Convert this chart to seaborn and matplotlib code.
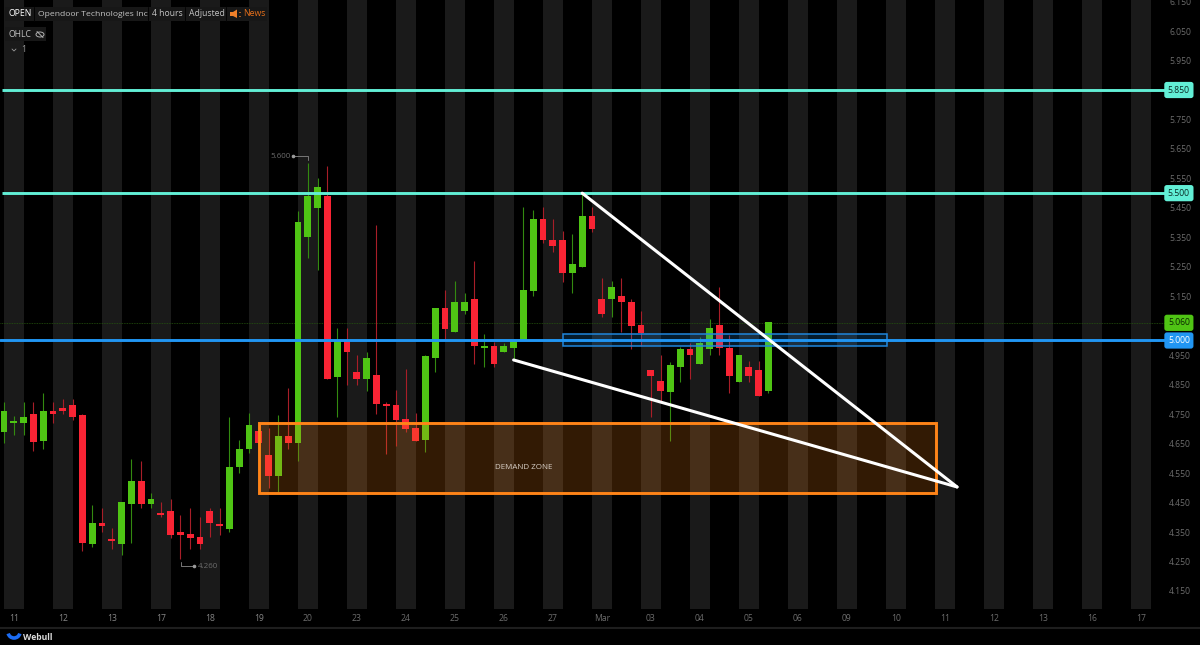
import numpy as np
import pandas as pd
import matplotlib
matplotlib.use("Agg")
import matplotlib.pyplot as plt
from matplotlib.patches import Rectangle, Polygon, Ellipse, Arc
import seaborn as sns

# ---- data ----
opens = [4.691,4.720,4.720,4.752,4.660,4.762,4.772,4.782,4.748,4.311,4.382,4.323,4.311,4.446,4.522,4.446,4.413,4.421,4.351,4.342,4.332,4.421,4.373,4.361,4.571,4.631,4.692,4.611,4.541,4.676,
         4.651,5.350,5.450,5.490,4.875,5.002,4.892,4.869,4.882,4.783,4.781,4.733,4.703,4.662,4.940,5.111,5.030,5.100,5.141,4.976,4.981,4.960,4.975,5.002,5.169,5.411,5.341,5.341,5.230,5.250,5.421,
         5.141,5.140,5.151,5.131,5.051,4.900,4.861,4.824,4.910,4.971,4.920,4.970,5.051,4.976,4.860,4.911,4.901,4.830]
closes = [4.762,4.723,4.742,4.657,4.762,4.752,4.762,4.742,4.312,4.382,4.372,4.321,4.452,4.522,4.446,4.462,4.409,4.341,4.341,4.331,4.311,4.381,4.371,4.572,4.632,4.712,4.652,4.541,4.676,4.651,
          5.401,5.490,5.521,4.869,5.002,4.960,4.869,4.942,4.786,4.779,4.730,4.701,4.659,4.946,5.111,5.040,5.131,5.131,4.980,4.981,4.920,4.981,5.002,5.171,5.411,5.340,5.320,5.230,5.261,5.421,5.379,
          5.090,5.180,5.131,5.050,5.024,4.881,4.830,4.916,4.971,4.951,4.990,5.041,4.976,4.881,4.952,4.881,4.812,5.062]
highs = [4.792,4.744,4.792,4.792,4.823,4.792,4.803,4.803,4.750,4.442,4.432,4.363,4.452,4.597,4.592,4.481,4.452,4.461,4.408,4.432,4.402,4.432,4.432,4.742,4.661,4.753,4.702,4.702,4.746,4.838,
         5.440,5.601,5.550,5.591,5.041,5.041,4.952,4.962,5.391,4.791,4.832,4.902,4.755,4.952,5.111,5.171,5.202,5.161,5.271,5.022,4.996,4.992,5.004,5.452,5.442,5.452,5.411,5.372,5.361,5.499,5.452,
         5.211,5.201,5.211,5.141,5.101,4.900,4.951,4.926,4.979,4.990,5.011,5.072,5.182,5.019,4.952,4.932,4.932,5.062]
lows = [4.651,4.680,4.680,4.626,4.631,4.721,4.752,4.731,4.287,4.300,4.351,4.291,4.271,4.314,4.430,4.430,4.402,4.331,4.260,4.291,4.291,4.332,4.339,4.351,4.551,4.619,4.652,4.498,4.487,4.631,
        4.591,5.281,5.240,4.869,4.742,4.850,4.849,4.830,4.751,4.616,4.641,4.691,4.658,4.621,4.894,5.002,5.030,5.090,4.920,4.910,4.911,4.960,4.934,5.000,5.150,5.330,5.299,5.200,5.160,5.250,5.369,
        5.080,5.080,5.030,4.970,4.982,4.741,4.792,4.660,4.860,4.870,4.919,4.951,4.950,4.821,4.860,4.860,4.812,4.821]
day_labels = ["11","12","13","17","18","19","20","23","24","25","26","27","Mar","03","04","05","06","09","10","11","12","13","16","17"]
price_ticks = [4.15,4.25,4.35,4.45,4.55,4.65,4.75,4.85,4.95,5.15,5.25,5.35,5.45,5.55,5.65,5.75,5.95,6.05,6.15]
level_teal = [5.85, 5.50]
level_blue = 5.00
last_price = 5.06
demand_zone = (26.0, 95.1, 4.482, 4.721)
blue_zone = (57.0, 90.1, 4.982, 5.022)
wedge_upper = ([59.0, 97.25], [5.50, 4.503])
wedge_lower = ([52.0, 97.25], [4.934, 4.503])

GREEN, RED = "#4fc414", "#f92434"
GREEN_W, RED_W = "#338a10", "#a81e28"
TEAL, BLUE, ORANGE = "#62efd6", "#2196f3", "#ff8418"
GREY = "#6c6c6c"
FONT = ["Open Sans", "DejaVu Sans"]

df = pd.DataFrame({"i": np.arange(len(opens)), "o": opens, "c": closes, "h": highs, "l": lows})
df["up"] = df.c >= df.o
df["base"] = df[["o", "c"]].min(axis=1)
df["body"] = (df.c - df.o).abs().clip(lower=0.006)

sns.set_theme(style="dark", rc={"axes.facecolor": "black", "figure.facecolor": "black"})
plt.rcParams["font.family"] = FONT

W, H = 1200, 645
fig = plt.figure(figsize=(12, 6.45), dpi=100, facecolor="black")
ax = fig.add_axes([0, (H - 609) / H, 1165 / W, 609 / H], facecolor="black")

ticks_x = 1 + 5 * np.arange(len(day_labels))
for t in ticks_x:
    ax.axvspan(t - 1, t + 1, color="#1a1a1a", lw=0, zorder=0)

up, down = df[df.up], df[~df.up]
ax.vlines(up.i, up.l, up.h, color=GREEN_W, lw=0.8, zorder=2)
ax.vlines(down.i, down.l, down.h, color=RED_W, lw=0.8, zorder=2)
sns.barplot(data=up, x="i", y="body", bottom=up.base.to_numpy(), native_scale=True, color=GREEN,
            saturation=1, width=0.68, errorbar=None, linewidth=0, zorder=3, ax=ax)
sns.barplot(data=down, x="i", y="body", bottom=down.base.to_numpy(), native_scale=True, color=RED,
            saturation=1, width=0.68, errorbar=None, linewidth=0, zorder=3, ax=ax)

# zones
x0, x1, y0, y1 = demand_zone
ax.add_patch(Rectangle((x0, y0), x1 - x0, y1 - y0, fc=ORANGE, alpha=0.2, lw=0, zorder=4))
ax.add_patch(Rectangle((x0, y0), x1 - x0, y1 - y0, fc="none", ec=ORANGE, lw=2.1, zorder=4.5))
ax.text(53.0, 4.568, "DEMAND ZONE", color="#d8cfc6", fontsize=5.8, ha="center", va="center", zorder=5)
x0, x1, y0, y1 = blue_zone
ax.add_patch(Rectangle((x0, y0), x1 - x0, y1 - y0, fc=BLUE, alpha=0.18, lw=0, zorder=4))
ax.add_patch(Rectangle((x0, y0), x1 - x0, y1 - y0, fc="none", ec="#1f86dc", lw=1.1, zorder=4.5))

# levels
ax.axhline(last_price, color="#24550e", lw=0.6, ls=(0, (1, 1)), zorder=1)
for lv in level_teal:
    ax.plot([-0.2, 118.5], [lv, lv], color=TEAL, lw=2.1, zorder=5, solid_capstyle="butt")
ax.axhline(level_blue, color=BLUE, lw=2.1, zorder=5.2)
ax.plot(*wedge_upper, color="white", lw=2.2, zorder=6, solid_capstyle="round")
ax.plot(*wedge_lower, color="white", lw=2.2, zorder=6, solid_capstyle="round")

# axes
ax.set_xlim(-0.408, 118.47)
ax.set_ylim(4.0889, 6.1554)
ax.set_xlabel(""); ax.set_ylabel("")
ax.set_xticks(ticks_x, day_labels)
ax.yaxis.tick_right()
ax.set_yticks(price_ticks, [f"{v:.3f}" for v in price_ticks])
ax.tick_params(axis="x", length=0, pad=3.5, labelsize=6.2, labelcolor=GREY)
ax.tick_params(axis="y", length=0, pad=3, labelsize=6.2, labelcolor=GREY)
ax.grid(False)
for s in ax.spines.values():
    s.set_visible(False)
for lab in ax.get_xticklabels()[:6]:
    lab.set_color("#858585")

# price tags
tag_tf = ax.get_yaxis_transform()
for v, fc, tc in [(5.85, TEAL, "#0a2a24"), (5.50, TEAL, "#0a2a24"), (5.06, GREEN, "#0b2402"), (5.00, BLUE, "white")]:
    ax.annotate(f"{v:.3f}", xy=(1, v), xycoords=tag_tf, xytext=(10.0, 0), textcoords="offset points",
                ha="center", va="center", fontsize=6.2, color=tc, zorder=10, annotation_clip=False,
                bbox=dict(boxstyle="round,pad=0.42,rounding_size=0.3", fc=fc, ec="none"))

# chrome overlay in pixel space
ch = fig.add_axes([0, 0, 1, 1], facecolor="none")
ch.set_xlim(0, W); ch.set_ylim(H, 0); ch.axis("off")
ch.add_patch(Rectangle((5, 7), 262, 14, fc="#171717", lw=0))
ch.add_patch(Rectangle((5, 27), 41, 14, fc="#171717", lw=0))
for sx in (34, 148, 185, 226):
    ch.plot([sx, sx], [7, 21], color="#050505", lw=0.7)
LIGHT = "#c4c4c4"
ch.text(8.5, 14, "OPEN", color="white", fontsize=6.2, va="center")
ch.text(38, 14, "Opendoor Technologies Inc", color=LIGHT, fontsize=6.1, va="center")
ch.text(152, 14, "4 hours", color=LIGHT, fontsize=6.2, va="center")
ch.text(189, 14, "Adjusted", color=LIGHT, fontsize=6.2, va="center")
ch.text(243, 14, "News", color="#e8701a", fontsize=6.2, va="center")
ch.add_patch(Polygon([(230, 12), (233, 12), (237, 9.5), (237, 18), (233, 16), (230, 16)], fc="#f0802a", lw=0))
ch.plot([238.5, 239.5], [12, 12], color="#f0802a", lw=0.6)
ch.plot([238.5, 239.5], [16, 16], color="#f0802a", lw=0.6)
ch.text(8.5, 34.5, "OHLC", color=LIGHT, fontsize=6.2, va="center")
ch.add_patch(Ellipse((40, 34.5), 8, 5, fc="none", ec="#b0b0b0", lw=0.7))
ch.plot([37, 43], [31.5, 37.5], color="#b0b0b0", lw=0.7)
ch.plot([12, 14, 16], [49, 51, 49], color="#9a9a9a", lw=0.6)
ch.text(21.5, 50, "1", color="#9a9a9a", fontsize=6.2, va="center")

# high / low callouts
ch.text(270, 156, "5.600", color=GREY, fontsize=5.8, va="center")
ch.plot([293, 307.5, 307.5], [156, 156, 160], color="#777777", lw=0.7)
ch.plot([293], [156], "o", ms=1.6, color="#999999")
ch.text(198, 566, "4.260", color=GREY, fontsize=5.8, va="center")
ch.plot([180.5, 180.5, 194], [562, 566, 566], color="#777777", lw=0.7)
ch.plot([194], [566], "o", ms=1.6, color="#999999")

# footer
ch.plot([0, W], [627.5, 627.5], color="#1e1e1e", lw=1.5)
ch.add_patch(Arc((14, 632), 12, 12, theta1=15, theta2=165, ec="#1c6cf2", lw=2.6))
ch.text(23, 637, "Webull", color="#dddddd", fontsize=6.2, fontweight="bold", va="center")

fig.savefig("out.png", dpi=100, facecolor="black")
